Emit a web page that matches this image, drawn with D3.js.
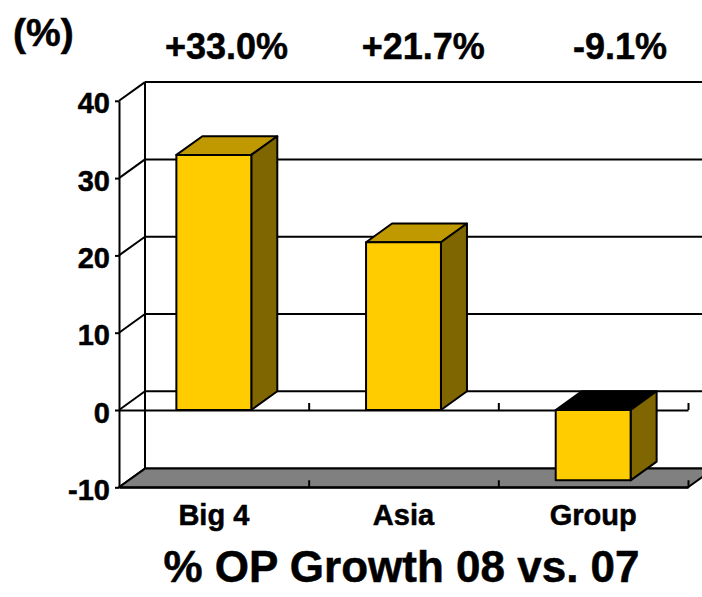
<!DOCTYPE html>
<html>
<head>
<meta charset="utf-8">
<script src="https://cdn.jsdelivr.net/npm/d3@7"></script>
<style>
  body { margin: 0; background: #fff; }
  text { font-family: Arial, "Liberation Sans", sans-serif; font-weight: bold; fill: #000; stroke: #000; stroke-width: 0.5px; }
</style>
</head>
<body>
<div id="chart"></div>
<script>
const categories = ["Big 4", "Asia", "Group"];
const growth = [33.0, 21.7, -9.1];
const headerLabels = ["+33.0%", "+21.7%", "-9.1%"];
const yTicks = [-10, 0, 10, 20, 30, 40];

const W = 702, H = 597;
const dx = 26, dy = 18.7;   // 3d depth offset

const svg = d3.select('#chart').append('svg')
  .attr('width', W).attr('height', H);

const x = d3.scaleBand().domain(categories).range([119, 688]).padding(0);
const xEdge = d3.scaleLinear().domain([0, 3]).range([119, 688]);
const y = d3.scaleLinear().domain([-10, 40]).range([487.3, 100.8]);
const xHead = d3.scalePoint().domain(categories).range([226.5, 620]);

const line = (g, x1, y1, x2, y2) => g.append('line')
  .attr('x1', x1).attr('y1', y1).attr('x2', x2).attr('y2', y2)
  .attr('stroke', '#000').attr('stroke-width', 2);

// walls + gridlines
const walls = svg.append('g');
yTicks.forEach(t => {
  line(walls, 145, y(t) - dy, 688 + dx, y(t) - dy);
  line(walls, 119, y(t), 145, y(t) - dy);
});
line(walls, 145, y(40) - dy, 145, y(-10) - dy);

// floor
const fy = y(-10);
svg.append('polygon')
  .attr('points', [[119, fy], [688, fy], [688 + dx, fy - dy], [145, fy - dy]].join(' '))
  .attr('fill', '#808080').attr('stroke', '#000').attr('stroke-width', 2)
  .attr('stroke-linejoin', 'miter');

// category axes on the floor and at zero
const catAxis = d3.axisBottom(xEdge).tickValues([1, 2, 3]).tickSize(-7)
  .tickSizeOuter(0).tickFormat('');
[-10, 0].forEach(v => {
  const g = svg.append('g').attr('transform', `translate(0,${y(v)})`).call(catAxis);
  g.selectAll('path, line').attr('stroke', '#000').attr('stroke-width', 2);
});

// bars
const barW = x.bandwidth() * 0.395;
const bars = svg.selectAll('.bar').data(growth).enter().append('g').attr('class', 'bar');
bars.each(function (v, i) {
  const g = d3.select(this);
  const x0 = x(categories[i]) + (x.bandwidth() - barW) / 2;
  const x1 = x0 + barW;
  const yt = y(Math.max(v, 0)), yb = y(Math.min(v, 0));
  const face = (pts, fill) => g.append('polygon')
    .attr('points', pts.join(' '))
    .attr('fill', fill).attr('stroke', '#000').attr('stroke-width', 2)
    .attr('stroke-linejoin', 'round');
  face([[x0, yt], [x1, yt], [x1 + dx, yt - dy], [x0 + dx, yt - dy]], v >= 0 ? '#C09900' : '#000');
  face([[x1, yt], [x1 + dx, yt - dy], [x1 + dx, yb - dy], [x1, yb]], '#806600');
  face([[x0, yt], [x1, yt], [x1, yb], [x0, yb]], '#FFCC00');
});

// value axis
const yAxis = svg.append('g').attr('transform', 'translate(119,0)')
  .call(d3.axisLeft(y).tickValues(yTicks).tickSize(4).tickSizeOuter(0).tickPadding(5)
    .tickFormat(d => String(d)));
yAxis.selectAll('path, line').attr('stroke', '#000').attr('stroke-width', 2);
yAxis.selectAll('text').attr('dy', '0.42em').style('font-size', '29px')
  .style('font-family', 'Arial, "Liberation Sans", sans-serif').style('font-weight', 'bold');

// category labels
svg.selectAll('.cat').data(categories).enter().append('text')
  .attr('x', d => x(d) + x.bandwidth() / 2)
  .attr('y', 525)
  .attr('text-anchor', 'middle')
  .style('font-size', '29px')
  .text(d => d);

// growth labels on top
svg.selectAll('.head').data(headerLabels).enter().append('text')
  .attr('x', (d, i) => xHead(categories[i]))
  .attr('y', 59)
  .attr('text-anchor', 'middle')
  .style('font-size', '36px')
  .text(d => d);

svg.append('text').attr('x', 13).attr('y', 46).style('font-size', '39px').text('(%)');

svg.append('text').attr('x', 401.5).attr('y', 582).attr('text-anchor', 'middle')
  .style('font-size', '44px').text('% OP Growth 08 vs. 07');
</script>
</body>
</html>
